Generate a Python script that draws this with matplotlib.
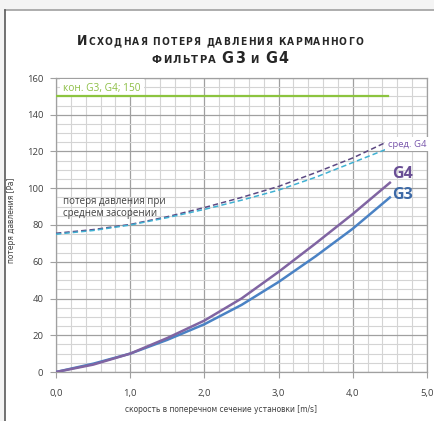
import matplotlib
matplotlib.use("Agg")
import matplotlib.pyplot as plt
from matplotlib.patches import Rectangle
from matplotlib.ticker import MultipleLocator, FuncFormatter

# data
velocity = [0.0, 0.5, 1.0, 1.5, 2.0, 2.5, 3.0, 3.5, 4.0, 4.5]
g3_initial = [0.0, 4.5, 10.0, 17.5, 26.0, 36.5, 49.0, 63.0, 78.0, 95.0]
g4_initial = [0.0, 4.0, 10.0, 18.5, 28.0, 40.0, 54.5, 70.0, 86.0, 103.0]
g3_mid = [75.0, 77.0, 80.0, 84.0, 88.5, 93.5, 99.0, 106.0, 114.0, 122.0]
g4_mid = [75.5, 77.5, 80.3, 84.5, 89.5, 95.0, 101.0, 108.5, 116.5, 126.0]
final_x = [0.0, 4.48]
final_dp = [150, 150]

y_ticks = [0, 20, 40, 60, 80, 100, 120, 140, 160]
x_ticks = [0.0, 1.0, 2.0, 3.0, 4.0, 5.0]

FONT = ["Open Sans", "DejaVu Sans"]
W, H = 434, 421

fig = plt.figure(figsize=(W / 100, H / 100), dpi=100)
fig.patch.set_facecolor("#f4f4f4")

# white chart card with the grey top/left edges
fig.patches.append(Rectangle((5 / W, 0), 1 - 5 / W, (H - 10) / H, transform=fig.transFigure,
                             facecolor="white", edgecolor="none", zorder=-5))
fig.add_artist(plt.Line2D([5 / W, 1], [(H - 10) / H] * 2, color="#a0a0a0", lw=1.2))
fig.add_artist(plt.Line2D([5 / W] * 2, [0, (H - 10) / H], color="#5a5a5a", lw=1.2))

ax = fig.add_axes([56 / W, (H - 372) / H, (427 - 56) / W, (372 - 78) / H])
ax.set_facecolor("white")
ax.set_xlim(0, 5)
ax.set_ylim(0, 160)

ax.xaxis.set_major_locator(MultipleLocator(1.0))
ax.xaxis.set_minor_locator(MultipleLocator(0.2))
ax.yaxis.set_major_locator(MultipleLocator(20))
ax.yaxis.set_minor_locator(MultipleLocator(5))
ax.grid(which="minor", color="#d4d4d4", lw=0.8)
ax.grid(which="major", color="#a0a0a0", lw=0.9)
ax.set_axisbelow(True)
for s in ax.spines.values():
    s.set_color("#a0a0a0")
    s.set_linewidth(0.9)

ax.set_xticks(x_ticks)
ax.set_yticks(y_ticks)
ax.xaxis.set_major_formatter(FuncFormatter(lambda v, p: f"{v:.1f}".replace(".", ",")))
ax.tick_params(which="major", length=4, color="#a0a0a0", labelsize=6.8, labelcolor="#404040")
ax.tick_params(axis="x", pad=8)
ax.tick_params(axis="y", pad=5)
ax.tick_params(which="minor", length=0)
for lab in ax.get_xticklabels() + ax.get_yticklabels():
    lab.set_family(FONT)

# curves
ax.plot(final_x, final_dp, color="#8cc43f", lw=1.6, zorder=6)
ax.plot(velocity, g4_mid, color="#5c4882", lw=1.1, ls=(0, (3.5, 2)), zorder=3)
ax.plot(velocity, g3_mid, color="#3fb0d2", lw=1.1, ls=(0, (3.5, 2)), zorder=3)
ax.plot(velocity, g3_initial, color="#4a82c4", lw=1.8, zorder=4)
ax.plot(velocity, g4_initial, color="#8064a2", lw=1.8, zorder=4)

# annotations
ax.text(0.1, 154.5, "кон. G3, G4; 150", color="#8dbf45", fontsize=7.3, family=FONT,
        va="center", ha="left",
        bbox=dict(facecolor="white", edgecolor="none", pad=2.5), zorder=5)
ax.text(4.47, 124, "сред. G4", color="#7a58ac", fontsize=6.8, family=FONT,
        va="center", ha="left",
        bbox=dict(facecolor="white", edgecolor="none", pad=2), zorder=5)
ax.text(4.53, 107.5, "G4", color="#694e94", fontsize=11.5, fontweight="bold", family=FONT,
        va="center", ha="left", zorder=5)
ax.text(4.53, 96.5, "G3", color="#3c69a6", fontsize=11.5, fontweight="bold", family=FONT,
        va="center", ha="left", zorder=5)
ax.text(0.09, 89.5, "потеря давления при\nсреднем засорении", color="#404040", fontsize=7,
        family=FONT, va="center", ha="left", linespacing=1.15, zorder=5)

fig.text(221 / W, (H - 409) / H, "скорость в поперечном сечение установки [m/s]",
         fontsize=6, color="#404040", ha="center", va="center",
         family="DejaVu Sans", stretch="condensed")
fig.text(12 / W, (H - 220) / H, "потеря давления [Pa]", rotation=90,
         fontsize=6, color="#404040", ha="center", va="center",
         family="DejaVu Sans", stretch="condensed")

# title in small caps, built piece by piece
renderer = fig.canvas.get_renderer()


def caps_line(y_px, pieces, track=1.2):
    arts = []
    x = 0.0
    for text, size in pieces:
        for ch in text:
            if ch == " ":
                x += size * 0.6
                continue
            t = fig.text(0, 1 - y_px / H, ch, fontsize=size, fontweight="bold",
                         color="#262626", family="DejaVu Sans", stretch="condensed",
                         ha="left", va="baseline")
            w = t.get_window_extent(renderer).width
            arts.append((t, x))
            x += w + track
    x -= track
    start = 220 - x / 2
    for t, off in arts:
        t.set_x((start + off) / W)


caps_line(45, [("И", 10), ("СХОДНАЯ ПОТЕРЯ ДАВЛЕНИЯ КАРМАННОГО", 7.3)])
caps_line(62.7, [("ФИЛЬТРА ", 8), ("G3", 11.5), (" И ", 8), ("G4", 11.5)])

fig.savefig("out.png", dpi=100, facecolor=fig.get_facecolor())
